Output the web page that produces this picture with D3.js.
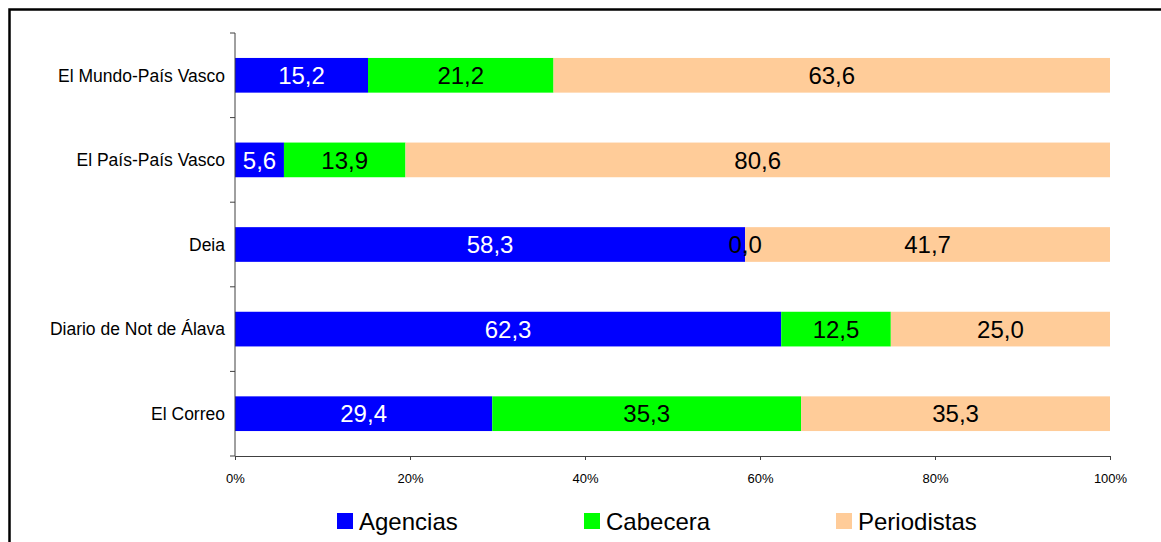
<!DOCTYPE html>
<html>
<head>
    <meta charset="utf-8">
    <style>
        body { margin: 0; background: #fff; }
        svg { display: block; font-family: "Liberation Sans", Arial, sans-serif; }
        .axis path, .axis line { stroke: #404040; }
        .axis text { fill: #000; }
    </style>
    <script src="https://d3js.org/d3.v7.min.js"></script>
</head>
<body>
    <svg width="1161" height="542"></svg>
    <script>
        var categories = ["El Mundo-País Vasco", "El País-País Vasco", "Deia", "Diario de Not de Álava", "El Correo"];
        var seriesNames = ["Agencias", "Cabecera", "Periodistas"];
        var agencias = [15.2, 5.6, 58.3, 62.3, 29.4];
        var cabecera = [21.2, 13.9, 0.0, 12.5, 35.3];
        var periodistas = [63.6, 80.6, 41.7, 25.0, 35.3];
        var tickValues = [0, 0.2, 0.4, 0.6, 0.8, 1];
        var colors = ["#0000ff", "#00ff00", "#ffcc99"];
        var labelColors = ["#fff", "#000", "#000"];

        var svg = d3.select("svg");

        // outer frame (runs off the right and bottom edges)
        svg.append("rect").attr("x", 9.5).attr("y", 9.5).attr("width", 1200).attr("height", 600)
            .attr("fill", "none").attr("stroke", "#000").attr("stroke-width", 2.5);

        var data = categories.map(function (c, i) {
            return { cat: c, Agencias: agencias[i], Cabecera: cabecera[i], Periodistas: periodistas[i] };
        });

        var stack = d3.stack().keys(seriesNames).offset(d3.stackOffsetExpand);
        var layers = stack(data);

        var x = d3.scaleLinear().domain([0, 1]).range([235, 1110]);
        var y = d3.scaleBand().domain(categories).range([33, 456]).paddingInner(0.59).paddingOuter(0.295);
        var yAxisScale = d3.scaleBand().domain(categories).range([33, 456]);

        var g = svg.append("g");

        var layer = g.selectAll(".layer").data(layers).enter().append("g")
            .attr("class", "layer")
            .attr("fill", function (d, i) { return colors[i]; });

        layer.selectAll("rect").data(function (d) { return d; }).enter().append("rect")
            .attr("x", function (d) { return x(d[0]); })
            .attr("width", function (d) { return x(d[1]) - x(d[0]); })
            .attr("y", function (d) { return y(d.data.cat); })
            .attr("height", y.bandwidth());

        // value labels
        layers.forEach(function (l, i) {
            g.selectAll(".lbl" + i).data(l).enter().append("text")
                .attr("class", "lbl" + i)
                .attr("x", function (d) { return (x(d[0]) + x(d[1])) / 2; })
                .attr("y", function (d) { return y(d.data.cat) + y.bandwidth() / 2; })
                .attr("dy", "0.36em")
                .attr("text-anchor", "middle")
                .attr("font-size", 24)
                .attr("fill", labelColors[i])
                .text(function (d) { return d3.format(".1f")(d.data[l.key]).replace(".", ","); });
        });

        // x axis
        var xAxis = svg.append("g").attr("class", "axis").attr("transform", "translate(0,456)")
            .call(d3.axisBottom(x).tickValues(tickValues).tickFormat(d3.format(".0%")).tickSize(4).tickSizeOuter(0));
        xAxis.attr("font-family", null);
        xAxis.selectAll("text").attr("font-size", 13).attr("y", 22).attr("dy", "0.36em");

        // y axis with ticks between categories
        var yAxis = svg.append("g").attr("class", "axis").attr("transform", "translate(235,0)");
        yAxis.append("line").attr("x1", 0).attr("x2", 0).attr("y1", 33).attr("y2", 456);
        var bounds = categories.map(function (c) { return yAxisScale(c); }).concat([456]);
        yAxis.selectAll(".tk").data(bounds).enter().append("line")
            .attr("x1", -5).attr("x2", 0)
            .attr("y1", function (d) { return d; }).attr("y2", function (d) { return d; });
        yAxis.selectAll(".cl").data(categories).enter().append("text")
            .attr("x", -10)
            .attr("y", function (d) { return y(d) + y.bandwidth() / 2; })
            .attr("dy", "0.36em")
            .attr("text-anchor", "end")
            .attr("font-size", 17.5)
            .text(function (d) { return d; });

        // legend
        var legendX = [337, 584, 836];
        var legend = svg.append("g").selectAll("g").data(seriesNames).enter().append("g")
            .attr("transform", function (d, i) { return "translate(" + legendX[i] + ",513)"; });
        legend.append("rect").attr("width", 16).attr("height", 16)
            .attr("fill", function (d, i) { return colors[i]; });
        legend.append("text").attr("x", 22).attr("y", 8).attr("dy", "0.36em")
            .attr("font-size", 24)
            .text(function (d) { return d; });
    </script>
</body>
</html>
